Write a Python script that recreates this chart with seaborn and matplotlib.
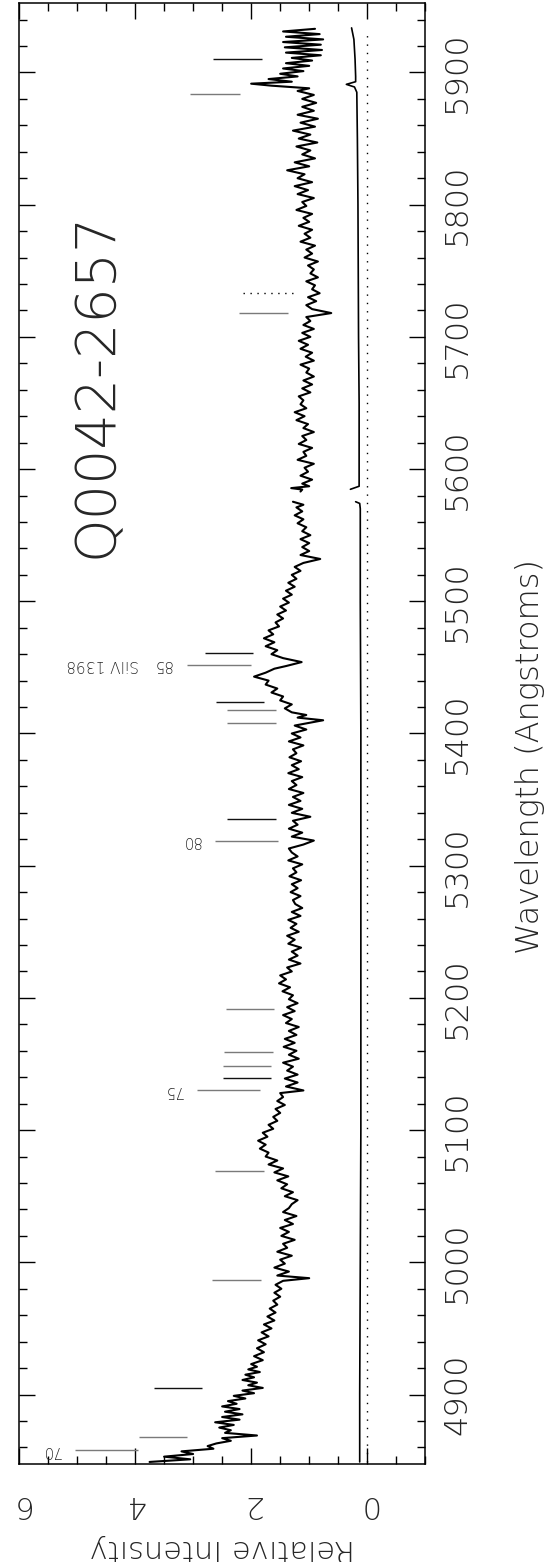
import numpy as np
import pandas as pd
import matplotlib
matplotlib.use("Agg")
import matplotlib.pyplot as plt
import seaborn as sns
from matplotlib.ticker import MultipleLocator

# ---------------- data ----------------
# spectrum, blue part (before the gap near 5580 A)
wave_a = [4849, 4851, 4853, 4855, 4857, 4859, 4861, 4863, 4865, 4867,
          4869, 4871, 4873, 4875, 4877, 4879, 4881, 4883, 4885, 4887,
          4889, 4891, 4893, 4895, 4897, 4899, 4901, 4903, 4905, 4907,
          4909, 4911, 4913, 4915, 4917, 4919, 4921, 4923, 4926, 4929,
          4932, 4935, 4938, 4941, 4944, 4947, 4950, 4953, 4956, 4959,
          4962, 4965, 4968, 4971, 4974, 4977, 4980, 4983, 4986, 4988,
          4990, 4993, 4996, 4999, 5002, 5005, 5008, 5011, 5014, 5017,
          5020, 5023, 5026, 5029, 5032, 5035, 5038, 5041, 5044, 5047,
          5050, 5053, 5056, 5059, 5062, 5065, 5068, 5071, 5074, 5077,
          5080, 5083, 5086, 5089, 5092, 5095, 5098, 5101, 5104, 5107,
          5110, 5113, 5116, 5119, 5122, 5125, 5128, 5130, 5133, 5136,
          5139, 5142, 5145, 5148, 5151, 5154, 5157, 5160, 5163, 5166,
          5169, 5172, 5175, 5178, 5181, 5184, 5187, 5190, 5193, 5196,
          5199, 5202, 5205, 5208, 5211, 5214, 5217, 5220, 5223, 5226,
          5229, 5232, 5235, 5238, 5241, 5244, 5247, 5250, 5253, 5256,
          5259, 5262, 5265, 5268, 5271, 5274, 5277, 5280, 5283, 5286,
          5289, 5292, 5295, 5298, 5301, 5304, 5307, 5310, 5313, 5316,
          5319, 5322, 5325, 5328, 5331, 5334, 5337, 5340, 5343, 5346,
          5349, 5352, 5355, 5358, 5361, 5364, 5367, 5370, 5373, 5376,
          5379, 5382, 5385, 5388, 5391, 5394, 5397, 5400, 5403, 5406,
          5408, 5410, 5412, 5414, 5416, 5419, 5422, 5425, 5428, 5431,
          5434, 5437, 5440, 5443, 5446, 5449, 5451, 5454, 5457, 5460,
          5463, 5466, 5469, 5472, 5475, 5478, 5481, 5484, 5487, 5490,
          5493, 5496, 5499, 5502, 5505, 5508, 5511, 5514, 5517, 5520,
          5523, 5526, 5529, 5532, 5535, 5538, 5541, 5544, 5547, 5550,
          5553, 5556, 5559, 5562, 5565, 5568, 5571, 5573, 5575.3]
flux_a = [3.75, 3.05, 3.5, 3.0, 3.2, 2.65, 2.75, 2.6, 2.35, 2.5,
          1.9, 2.45, 2.35, 2.55, 2.3, 2.62, 2.2, 2.5, 2.15, 2.45,
          2.2, 2.5, 2.25, 2.4, 2.1, 2.3, 1.95, 2.15, 1.8, 2.05,
          1.9, 2.15, 1.95, 2.1, 1.85, 2.05, 1.9, 2.0, 1.8, 1.95,
          1.78, 1.9, 1.75, 1.88, 1.7, 1.82, 1.65, 1.78, 1.6, 1.72,
          1.58, 1.68, 1.55, 1.62, 1.5, 1.6, 1.48, 1.58, 1.45, 1.0,
          1.55, 1.35, 1.6, 1.42, 1.5, 1.3, 1.55, 1.38, 1.45, 1.25,
          1.48, 1.35, 1.5, 1.28, 1.42, 1.22, 1.45, 1.35, 1.3, 1.2,
          1.42, 1.28, 1.48, 1.38, 1.55, 1.36, 1.6, 1.45, 1.7, 1.55,
          1.75, 1.7, 1.85, 1.75, 1.88, 1.72, 1.8, 1.62, 1.7, 1.55,
          1.62, 1.5, 1.58, 1.42, 1.55, 1.45, 1.5, 1.1, 1.4, 1.2,
          1.42, 1.2, 1.38, 1.28, 1.45, 1.18, 1.35, 1.22, 1.44, 1.25,
          1.42, 1.22, 1.35, 1.18, 1.4, 1.3, 1.45, 1.25, 1.38, 1.2,
          1.35, 1.28, 1.46, 1.33, 1.52, 1.4, 1.5, 1.3, 1.38, 1.15,
          1.35, 1.2, 1.3, 1.14, 1.36, 1.25, 1.38, 1.18, 1.32, 1.22,
          1.36, 1.15, 1.3, 1.12, 1.24, 1.28, 1.15, 1.32, 1.2, 1.3,
          1.14, 1.34, 1.22, 1.28, 1.12, 1.36, 1.2, 1.3, 1.35, 1.1,
          0.92, 1.3, 1.12, 1.35, 1.2, 1.28, 0.98, 1.3, 1.12, 1.35,
          1.15, 1.28, 1.1, 1.35, 1.22, 1.3, 1.12, 1.36, 1.18, 1.3,
          1.14, 1.34, 1.22, 1.28, 1.1, 1.35, 1.15, 1.3, 1.05, 1.25,
          1.0, 0.76, 1.2, 1.05, 1.3, 1.42, 1.3, 1.5, 1.45, 1.65,
          1.55, 1.75, 1.7, 1.95, 1.75, 1.6, 1.4, 1.13, 1.45, 1.65,
          1.55, 1.75, 1.6, 1.78, 1.62, 1.7, 1.52, 1.58, 1.45, 1.55,
          1.4, 1.5, 1.35, 1.45, 1.3, 1.4, 1.25, 1.36, 1.22, 1.3,
          1.15, 1.25, 1.1, 0.81, 1.15, 1.0, 1.12, 1.0, 1.15, 0.98,
          1.12, 1.05, 1.2, 1.1, 1.25, 1.12, 1.22, 1.1, 1.28]

# spectrum, red part (after the gap)
wave_b = [5583, 5584.5, 5585.6, 5587, 5589, 5592, 5595, 5598, 5601, 5604,
          5607, 5610, 5613, 5616, 5619, 5622, 5625, 5628, 5631, 5634,
          5637, 5640, 5643, 5646, 5649, 5652, 5655, 5658, 5661, 5664,
          5667, 5670, 5673, 5676, 5679, 5682, 5685, 5688, 5691, 5694,
          5697, 5700, 5703, 5706, 5709, 5712, 5715, 5718, 5721, 5724,
          5727, 5730, 5733, 5736, 5739, 5742, 5745, 5748, 5751, 5754,
          5757, 5760, 5763, 5766, 5769, 5772, 5775, 5778, 5781, 5784,
          5787, 5790, 5793, 5796, 5799, 5802, 5805, 5808, 5811, 5814,
          5817, 5820, 5823, 5826, 5829, 5832, 5835, 5838, 5841, 5844,
          5847, 5850, 5853, 5856, 5859, 5862, 5865, 5868, 5871, 5874,
          5877, 5880, 5883, 5886, 5888, 5890, 5891.5, 5893, 5895, 5897,
          5899, 5901, 5903, 5905, 5907, 5909, 5911, 5913, 5915, 5917,
          5919, 5921, 5923, 5925, 5927, 5929, 5931, 5933]
flux_b = [1.15, 1.12, 1.31, 1.0, 1.12, 0.95, 1.15, 1.02, 1.08, 0.92,
          1.2, 1.05, 1.1, 0.95, 1.18, 1.05, 1.12, 0.92, 1.1, 1.02,
          1.22, 1.08, 1.25, 1.05, 1.15, 1.1, 1.18, 0.98, 1.12, 0.95,
          1.1, 0.92, 1.05, 1.0, 1.15, 0.92, 1.06, 0.95, 1.15, 1.02,
          1.18, 0.98, 1.12, 0.92, 1.1, 0.98, 1.05, 0.62, 0.95, 1.05,
          0.88, 1.02, 0.82, 0.95, 0.9, 1.05, 0.85, 0.98, 0.92, 1.02,
          0.85, 1.08, 0.95, 1.05, 0.9, 1.15, 0.98, 1.08, 0.95, 1.18,
          1.0, 1.1, 0.95, 1.22, 1.05, 1.12, 0.92, 1.2, 1.02, 1.25,
          0.95, 1.2, 1.08, 1.38, 1.0, 1.25, 0.9, 1.12, 0.98, 1.22,
          0.86, 1.18, 0.98, 1.28, 0.9, 1.15, 0.85, 1.2, 0.92, 1.12,
          0.88, 1.12, 0.92, 1.2, 1.0, 1.65, 2.0, 1.3, 1.7, 1.2,
          1.5, 1.1, 1.45, 1.0, 1.4, 0.95, 1.3, 0.8, 1.4, 0.78,
          1.42, 0.8, 1.45, 0.76, 1.4, 0.82, 1.45, 0.9]

# error spectrum (two parts, same gap)
err_wave_a = [4849, 4900, 5000, 5100, 5200, 5300, 5400, 5500, 5570, 5574, 5575.3]
err_a = [0.13, 0.13, 0.12, 0.11, 0.11, 0.11, 0.11, 0.12, 0.12, 0.13, 0.20]
err_wave_b = [5584.7, 5587, 5650, 5700, 5800, 5850, 5885, 5889, 5891, 5893,
              5897, 5910, 5925, 5933.7]
err_b = [0.29, 0.14, 0.14, 0.15, 0.16, 0.17, 0.18, 0.22, 0.36, 0.20,
         0.20, 0.21, 0.23, 0.27]

# absorption line identifications: wavelength, intensity range, kind
id_wave = [4857.9, 4868.2, 4905.2, 4986.8, 5069.1, 5130.3, 5139.2, 5148.7,
           5159.1, 5191.6, 5318.7, 5335.1, 5408.2, 5417.8, 5424.0, 5452.0,
           5460.7, 5718.3, 5733.0, 5883.7, 5910.0]
id_lo = [3.95, 3.11, 2.84, 1.83, 1.78, 1.84, 1.65, 1.65,
         1.63, 1.61, 1.53, 1.58, 1.58, 1.58, 1.78, 2.01,
         1.96, 1.37, 1.28, 2.20, 1.81]
id_hi = [5.04, 3.94, 3.68, 2.67, 2.63, 2.93, 2.49, 2.49,
         2.47, 2.44, 2.62, 2.42, 2.42, 2.42, 2.61, 3.11,
         2.80, 2.21, 2.14, 3.05, 2.66]
id_kind = ["grey", "grey", "black", "grey", "grey", "grey", "black", "grey",
           "grey", "grey", "grey", "black", "grey", "grey", "black", "grey",
           "black", "grey", "dotted", "grey", "black"]

# labels of numbered systems
label_text = ["70", "75", "80", "85", "SiIV 1398"]
label_wave = [4858, 5130, 5319, 5452, 5452]
label_int = [5.45, 3.34, 3.03, 3.54, 4.55]

title_text = "Q0042-2657"
int_ticks = [0, 2, 4, 6]
wave_ticks = [4900, 5000, 5100, 5200, 5300, 5400, 5500, 5600, 5700, 5800, 5900]

# ---------------- plot ----------------
sns.set_style("ticks")
plt.rcParams["font.family"] = ["DejaVu Sans"]

fig = plt.figure(figsize=(5.47, 15.62), dpi=100)
ax = fig.add_axes([0.0347, 0.0627, 0.7428, 0.9351])

sns.lineplot(x=flux_a, y=wave_a, orient="y", sort=False, estimator=None,
             color="black", lw=1.5, ax=ax)
sns.lineplot(x=flux_b, y=wave_b, orient="y", sort=False, estimator=None,
             color="black", lw=1.5, ax=ax)
sns.lineplot(x=err_a, y=err_wave_a, orient="y", sort=False, estimator=None,
             color="black", lw=1.2, ax=ax)
sns.lineplot(x=err_b, y=err_wave_b, orient="y", sort=False, estimator=None,
             color="black", lw=1.2, ax=ax)

# zero level
ax.vlines(0, min(wave_a), max(wave_b), colors="black",
          linestyles=(0, (1, 5)), lw=1.0)

style = {"grey": dict(colors="#7a7a7a", linestyles="solid"),
         "black": dict(colors="#111111", linestyles="solid"),
         "dotted": dict(colors="black", linestyles=(0, (1, 4)))}
for w, lo, hi, k in zip(id_wave, id_lo, id_hi, id_kind):
    ax.hlines(w, lo, hi, lw=1.0, **style[k])

for t, w, i in zip(label_text, label_wave, label_int):
    ax.text(i, w, t, rotation=180, ha="center", va="center", fontsize=11,
            fontweight="light")

ax.text(4.65, 5664, title_text, rotation=90, ha="center", va="center",
        fontsize=40, fontweight="ultralight")

ax.set_xlim(6, -1)
ax.set_ylim(4847.4, 5952.2)

ax.set_xticks(int_ticks, labels=[str(v) for v in int_ticks], rotation=180,
              fontsize=22, fontweight="light")
ax.set_yticks(wave_ticks, labels=[str(v) for v in wave_ticks], rotation=90,
              va="center", fontsize=23, fontweight="light")
ax.xaxis.set_minor_locator(MultipleLocator(0.5))
ax.yaxis.set_minor_locator(MultipleLocator(20))
ax.tick_params(which="both", direction="in", top=True, bottom=True,
               left=True, right=True, labelleft=False, labelright=True,
               labelbottom=True, labeltop=False, width=1.0, color="black")
ax.tick_params(which="major", length=11.5)
ax.tick_params(which="minor", length=6)
ax.tick_params(axis="x", which="major", pad=19)
ax.tick_params(axis="y", which="major", pad=12)
for s in ax.spines.values():
    s.set_linewidth(1.1)
    s.set_color("black")
ax.set_xlabel("")
ax.set_ylabel("")

fig.text(222 / 547, 1 - 1548 / 1562, "Relative Intensity", rotation=180,
         ha="center", va="center", fontsize=22, fontweight="light")
fig.text(530 / 547, 1 - 757 / 1562, "Wavelength (Angstroms)", rotation=90,
         ha="center", va="center", fontsize=23, fontweight="light")

fig.savefig("out.png", dpi=100, facecolor="white")
